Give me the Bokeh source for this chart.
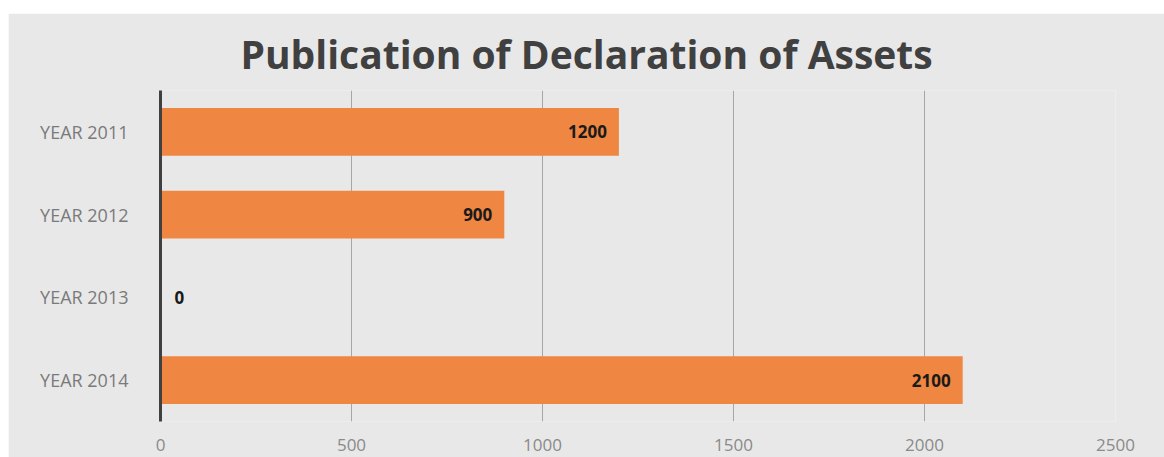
from bokeh.plotting import figure
from bokeh.models import ColumnDataSource, Range1d, FactorRange, FixedTicker, Title
from bokeh.core.properties import value
from bokeh.embed import file_html
from bokeh.resources import INLINE

# data
categories = ["YEAR 2011", "YEAR 2012", "YEAR 2013", "YEAR 2014"]
values = [1200, 900, 0, 2100]
x_ticks = [0, 500, 1000, 1500, 2000, 2500]
title_text = "Publication of Declaration of Assets"

BG = "#e8e8e8"
BAR = "#ef8642"
FONT = "Open Sans"

src = ColumnDataSource(dict(
    cat=categories,
    val=values,
    lab=[str(v) for v in values],
    xoff=[-12 if v > 0 else 14 for v in values],
    align=["right" if v > 0 else "left" for v in values],
))

W, H = 1156, 444
ML, MT = 8, 13
BL, BR, BT, BB = 152, 49, 77, 36
p = figure(
    width=W, height=H,
    x_range=Range1d(0, 2500),
    y_range=FactorRange(factors=list(reversed(categories)), range_padding=0),
    output_backend="svg", toolbar_location=None,
    min_border_left=BL, min_border_right=BR, min_border_top=BT, min_border_bottom=BB,
    background_fill_color=BG, border_fill_color=BG, outline_line_color=None,
    margin=(MT, 0, 0, ML),
)

p.hbar(y="cat", right="val", left=0, height=0.58, source=src,
       fill_color=BAR, line_color=None)
p.text(x="val", y="cat", text="lab", x_offset="xoff", text_align="align",
       text_baseline="middle", source=src, text_font_size="17px",
       text_font_style="bold", text_color="#1a1a1a", text_font=value(FONT))

title = Title(text=title_text, align="left", offset=80,
              text_font=FONT, text_font_size="39px", text_font_style="bold",
              text_color="#404040", standoff=22)
p.add_layout(title, "above")

p.xaxis.ticker = FixedTicker(ticks=x_ticks)
p.xaxis.axis_line_color = None
p.xaxis.major_tick_line_color = None
p.xaxis.minor_tick_line_color = None
p.xaxis.major_label_text_font = FONT
p.xaxis.major_label_text_font_size = "17px"
p.xaxis.major_label_text_color = "#8a8a8a"
p.xaxis.major_label_standoff = 11

p.yaxis.axis_line_color = "#404040"
p.yaxis.axis_line_width = 3
p.yaxis.major_tick_line_color = None
p.yaxis.minor_tick_line_color = None
p.yaxis.major_label_text_font = FONT
p.yaxis.major_label_text_font_size = "18px"
p.yaxis.major_label_text_color = "#7a7a7a"
p.yaxis.major_label_standoff = 26

p.ygrid.grid_line_color = None
p.xgrid.ticker = FixedTicker(ticks=x_ticks)
p.xgrid.grid_line_color = "#a6a6a6"
p.xgrid.grid_line_width = 1

open("out.html", "w").write(file_html(p, INLINE))
